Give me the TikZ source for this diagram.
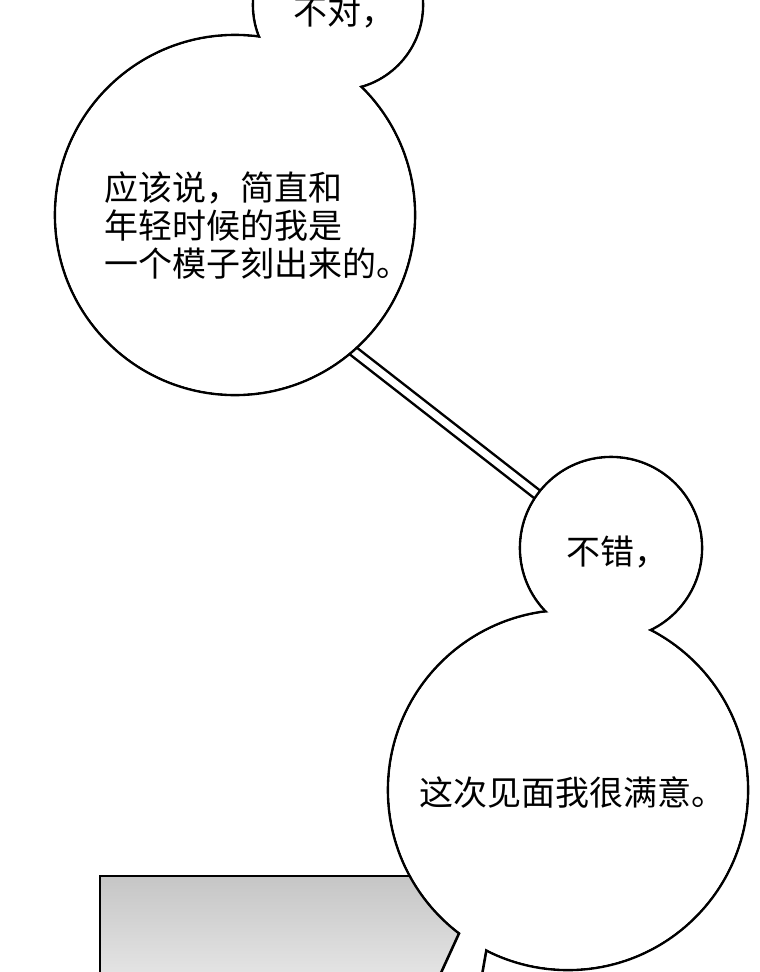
\documentclass[tikz,border=0pt]{standalone}
\usepackage{fontspec}
\newfontfamily\cjk{Noto Sans CJK SC}
\begin{document}
\begin{tikzpicture}[x=1pt,y=-1pt,
            bubble text/.style={font=\cjk\fontsize{34}{38}\selectfont,align=left,inner sep=0pt}]

        \useasboundingbox (0,0) rectangle (760,972);
        \fill[white] (0,0) rectangle (760,972);

        % Background panel
        \shade[top color=gray!45,bottom color=gray!20,draw=black,line width=2pt]
            (100,876) -- (470,876) -- (470,980) -- (100,980) -- cycle;

        % Connector
        \draw[line width=12pt,black] (352,350) -- (538,495);
        \draw[line width=7pt,white] (352,350) -- (538,495);

        % Bubble outlines
        \begin{scope}[line width=2.6pt]
            \draw (338,5) circle (85);
            \draw (235,215) circle (180);
            \draw (611,548) circle (91);
            \draw (568,790) circle (180);
            \draw[fill=white] (440,975) -- (472,905) -- (492,918) -- (482,975);
        \end{scope}
        % Bubble fills
        \fill[white] (338,5) circle (83.7);
        \fill[white] (235,215) circle (178.7);
        \fill[white] (611,548) circle (89.7);
        \fill[white] (568,790) circle (178.7);
        \fill[white] (444,975) -- (473,909) -- (490,920) -- (480,975);

        % Texts
        \node[bubble text] (wrong) at (344,12) {不对，};
        \node[bubble text,anchor=west] (alike) at (104,225)
            {应该说，简直和\\年轻时候的我是\\一个模子刻出来的。};
        \node[bubble text] (good) at (617,552) {不错，};
        \node[bubble text] (pleased) at (572,792) {这次见面我很满意。};

        \end{tikzpicture}
\end{document}
